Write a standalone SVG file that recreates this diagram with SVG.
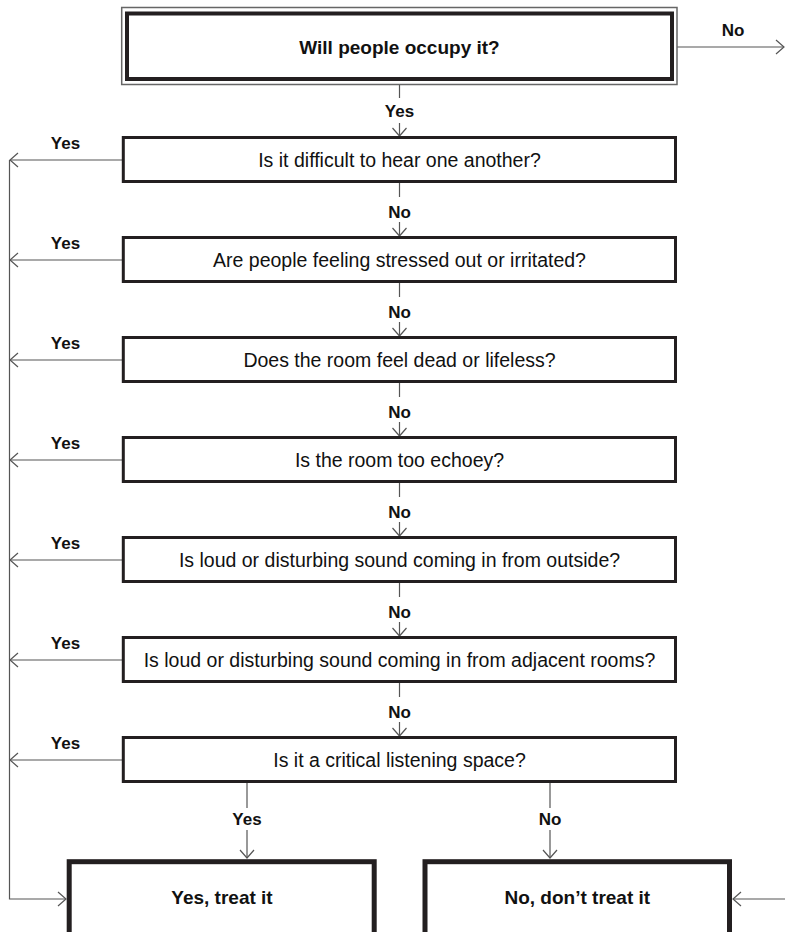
<svg xmlns="http://www.w3.org/2000/svg" width="785" height="932" viewBox="0 0 785 932">
<defs>
<style>
.bg{fill:#fff}
.q{fill:#fff;stroke:#231f20;stroke-width:3}
.thick{fill:#fff;stroke:#231f20;stroke-width:5}
.outer{fill:none;stroke:#666;stroke-width:1.5}
.inner{fill:#fff;stroke:#231f20;stroke-width:4}
.c{fill:none;stroke:#555;stroke-width:1.2}
.t{font-family:"Liberation Sans",Arial,sans-serif;font-size:19.5px;fill:#111;text-anchor:middle}
.b{font-family:"Liberation Sans",Arial,sans-serif;font-size:17px;font-weight:bold;fill:#111;text-anchor:middle}
.bb{font-family:"Liberation Sans",Arial,sans-serif;font-size:19px;font-weight:bold;fill:#111;text-anchor:middle}
</style>
<marker id="ah" viewBox="-1 -8 10 16" refX="8" refY="0" markerWidth="10" markerHeight="16" markerUnits="userSpaceOnUse" orient="auto">
<path d="M0,-7 L8,0 L0,7" fill="none" stroke="#555" stroke-width="1.2"/>
</marker>
</defs>
<rect class="bg" x="0" y="0" width="785" height="932"/>

<g id="connectors">
<line class="c" x1="677" y1="47" x2="784" y2="47" marker-end="url(#ah)"/>
<line class="c" x1="399.5" y1="85" x2="399.5" y2="98"/>
<line class="c" x1="399.5" y1="123" x2="399.5" y2="136" marker-end="url(#ah)"/>
<line class="c" x1="399.5" y1="183" x2="399.5" y2="197"/>
<line class="c" x1="399.5" y1="222" x2="399.5" y2="236" marker-end="url(#ah)"/>
<line class="c" x1="399.5" y1="283" x2="399.5" y2="297"/>
<line class="c" x1="399.5" y1="322" x2="399.5" y2="336" marker-end="url(#ah)"/>
<line class="c" x1="399.5" y1="383" x2="399.5" y2="397"/>
<line class="c" x1="399.5" y1="422" x2="399.5" y2="436" marker-end="url(#ah)"/>
<line class="c" x1="399.5" y1="483" x2="399.5" y2="497"/>
<line class="c" x1="399.5" y1="522" x2="399.5" y2="536" marker-end="url(#ah)"/>
<line class="c" x1="399.5" y1="583" x2="399.5" y2="597"/>
<line class="c" x1="399.5" y1="622" x2="399.5" y2="636" marker-end="url(#ah)"/>
<line class="c" x1="399.5" y1="683" x2="399.5" y2="697"/>
<line class="c" x1="399.5" y1="722" x2="399.5" y2="736" marker-end="url(#ah)"/>
<line class="c" x1="122" y1="160" x2="10" y2="160" marker-end="url(#ah)"/>
<line class="c" x1="122" y1="260" x2="10" y2="260" marker-end="url(#ah)"/>
<line class="c" x1="122" y1="360" x2="10" y2="360" marker-end="url(#ah)"/>
<line class="c" x1="122" y1="460" x2="10" y2="460" marker-end="url(#ah)"/>
<line class="c" x1="122" y1="560" x2="10" y2="560" marker-end="url(#ah)"/>
<line class="c" x1="122" y1="660" x2="10" y2="660" marker-end="url(#ah)"/>
<line class="c" x1="122" y1="760" x2="10" y2="760" marker-end="url(#ah)"/>
<path class="c" d="M9.5,160 V899 H66" marker-end="url(#ah)"/>
<line class="c" x1="785" y1="899" x2="733" y2="899" marker-end="url(#ah)"/>
<line class="c" x1="247" y1="783" x2="247" y2="808"/>
<line class="c" x1="247" y1="830" x2="247" y2="858" marker-end="url(#ah)"/>
<line class="c" x1="550" y1="783" x2="550" y2="808"/>
<line class="c" x1="550" y1="830" x2="550" y2="858" marker-end="url(#ah)"/>
<text class="b" x="733" y="36">No</text>
<text class="b" x="399.5" y="117">Yes</text>
<text class="b" x="399.5" y="218">No</text>
<text class="b" x="399.5" y="318">No</text>
<text class="b" x="399.5" y="418">No</text>
<text class="b" x="399.5" y="518">No</text>
<text class="b" x="399.5" y="618">No</text>
<text class="b" x="399.5" y="718">No</text>
<text class="b" x="65.5" y="149">Yes</text>
<text class="b" x="65.5" y="249">Yes</text>
<text class="b" x="65.5" y="349">Yes</text>
<text class="b" x="65.5" y="449">Yes</text>
<text class="b" x="65.5" y="549">Yes</text>
<text class="b" x="65.5" y="649">Yes</text>
<text class="b" x="65.5" y="749">Yes</text>
<text class="b" x="247" y="825">Yes</text>
<text class="b" x="550" y="825">No</text>
</g>

<g id="occupy">
<rect class="outer" x="121.7" y="7.5" width="555.3" height="77"/>
<rect class="inner" x="127" y="13.5" width="545" height="65.5"/>
<text class="bb" x="399.5" y="53.5">Will people occupy it?</text>
</g>
<g id="q1">
<rect class="q" x="123.3" y="137.5" width="552.2" height="44"/>
<text class="t" x="399.5" y="166.5">Is it difficult to hear one another?</text>
</g>
<g id="q2">
<rect class="q" x="123.3" y="237.5" width="552.2" height="44"/>
<text class="t" x="399.5" y="266.5">Are people feeling stressed out or irritated?</text>
</g>
<g id="q3">
<rect class="q" x="123.3" y="337.5" width="552.2" height="44"/>
<text class="t" x="399.5" y="366.5">Does the room feel dead or lifeless?</text>
</g>
<g id="q4">
<rect class="q" x="123.3" y="437.5" width="552.2" height="44"/>
<text class="t" x="399.5" y="466.5">Is the room too echoey?</text>
</g>
<g id="q5">
<rect class="q" x="123.3" y="537.5" width="552.2" height="44"/>
<text class="t" x="399.5" y="566.5">Is loud or disturbing sound coming in from outside?</text>
</g>
<g id="q6">
<rect class="q" x="123.3" y="637.5" width="552.2" height="44"/>
<text class="t" x="399.5" y="666.5">Is loud or disturbing sound coming in from adjacent rooms?</text>
</g>
<g id="q7">
<rect class="q" x="123.3" y="737.5" width="552.2" height="44"/>
<text class="t" x="399.5" y="766.5">Is it a critical listening space?</text>
</g>
<g id="treat">
<rect class="thick" x="69.2" y="861.7" width="305" height="100"/>
<text class="bb" x="222" y="903.5">Yes, treat it</text>
</g>
<g id="dont-treat">
<rect class="thick" x="425" y="861.7" width="304.5" height="100"/>
<text class="bb" x="577.3" y="903.5">No, don’t treat it</text>
</g>
</svg>
